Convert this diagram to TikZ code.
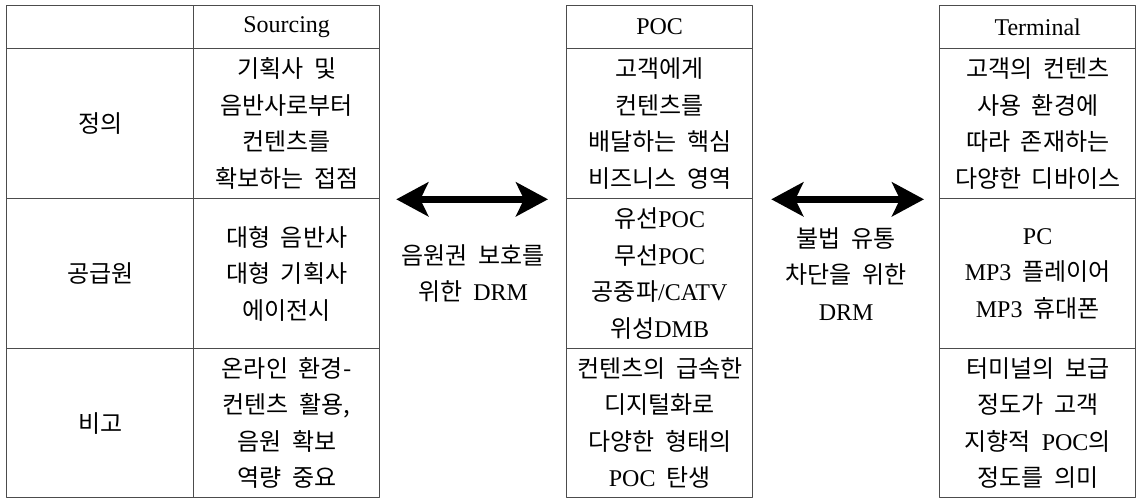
\documentclass[tikz,border=0pt]{standalone}
\usepackage{fontspec}
\setmainfont[WordSpace=2]{Noto Sans CJK KR}
\newfontfamily\lat{Liberation Serif}
\usetikzlibrary{arrows.meta}

\begin{document}
\begin{tikzpicture}[x=1pt, y=-1pt, line join=round,
	font=\fontsize{24}{36.5}\selectfont,
	cell/.style={draw=black!70, line width=1.3pt, inner sep=0pt, anchor=north west, align=center, minimum width=#1, minimum height=150pt},
	hdr/.style={cell=#1, minimum height=43pt},
	dblarrow/.style={line width=7pt, {Stealth[length=32pt,width=34pt,inset=8pt]}-{Stealth[length=32pt,width=34pt,inset=8pt]}}]
	\def\xa{6} \def\xb{193} \def\xc{566} \def\xd{939} % left edges
	\def\yh{5} \def\ya{48} \def\yb{198} \def\yc{348} % top edges
	\useasboundingbox (0,0) rectangle (1141,499);
	% Sourcing
	\node[hdr=187pt] (s0) at (\xa,\yh) {};
	\node[cell=187pt] (r1) at (\xa,\ya) {정의};
	\node[cell=187pt] (r2) at (\xa,\yb) {공급원};
	\node[cell=187pt, minimum height=149pt] (r3) at (\xa,\yc) {비고};
	\node[hdr=186pt] (sh) at (\xb,\yh) {\lat Sourcing};
	\node[cell=186pt] (s1) at (\xb,\ya) {기획사 및\\음반사로부터\\컨텐츠를\\확보하는 접점};
	\node[cell=186pt] (s2) at (\xb,\yb) {대형 음반사\\대형 기획사\\에이전시};
	\node[cell=186pt, minimum height=149pt] (s3) at (\xb,\yc) {온라인 환경-\\컨텐츠 활용,\\음원 확보\\역량 중요};
	% POC
	\node[hdr=186pt] (ph) at (\xc,\yh) {\lat POC};
	\node[cell=186pt] (p1) at (\xc,\ya) {고객에게\\컨텐츠를\\배달하는 핵심\\비즈니스 영역};
	\node[cell=186pt] (p2) at (\xc,\yb) {유선{\lat POC}\\무선{\lat POC}\\공중파{\lat /CATV}\\위성{\lat DMB}};
	\node[cell=186pt, minimum height=149pt] (p3) at (\xc,\yc) {컨텐츠의 급속한\\디지털화로\\다양한 형태의\\{\lat POC} 탄생};
	% Terminal
	\node[hdr=196pt] (th) at (\xd,\yh) {\lat Terminal};
	\node[cell=196pt] (t1) at (\xd,\ya) {고객의 컨텐츠\\사용 환경에\\따라 존재하는\\다양한 디바이스};
	\node[cell=196pt] (t2) at (\xd,\yb) {{\lat PC}\\{\lat MP3} 플레이어\\{\lat MP3} 휴대폰};
	\node[cell=196pt, minimum height=149pt] (t3) at (\xd,\yc) {터미널의 보급\\정도가 고객\\지향적 {\lat POC}의\\정도를 의미};
	% DRM
	\draw[dblarrow, shorten <=16pt, shorten >=18pt] (s1.south east) -- (p1.south west);
	\draw[dblarrow, shorten <=18pt, shorten >=15pt] (p1.south east) -- (t1.south west);
	\path (s2.east) -- (p2.west) node[midway, align=center] (drm1) {음원권 보호를\\위한 {\lat DRM}};
	\path (p2.east) -- (t2.west) node[midway, align=center] (drm2) {불법 유통\\차단을 위한\\{\lat DRM}};
\end{tikzpicture}
\end{document}
